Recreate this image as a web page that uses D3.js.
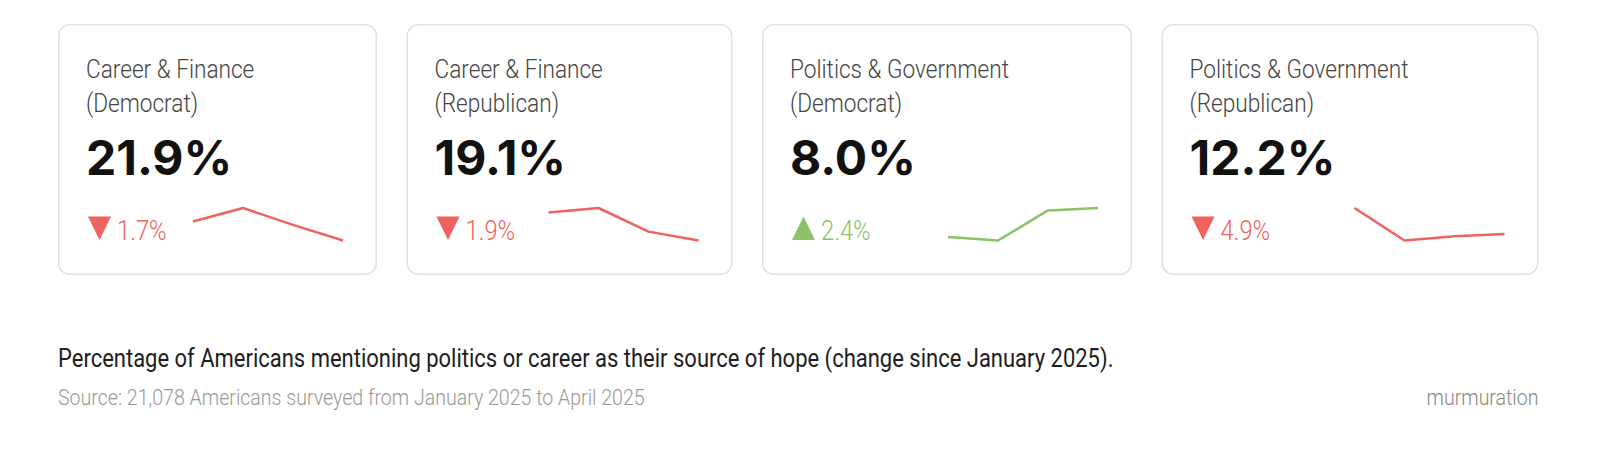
<!DOCTYPE html>
<html>
<head>
<meta charset="utf-8">
<script src="https://cdnjs.cloudflare.com/ajax/libs/d3/7.8.5/d3.min.js"></script>
<style>
  html, body { margin: 0; padding: 0; background: #fff; }
  svg { display: block; }
</style>
</head>
<body>
<svg id="chart"></svg>
<script>
// ---- data ----
const categories = ["Career & Finance", "Career & Finance", "Politics & Government", "Politics & Government"];
const parties = ["(Democrat)", "(Republican)", "(Democrat)", "(Republican)"];
const currentValues = [21.9, 19.1, 8.0, 12.2];
const changes = [-1.7, -1.9, 2.4, -4.9];
const months = ["Jan 2025", "Feb 2025", "Mar 2025", "Apr 2025"];
const trendSeries = [
    [23.6, 24.8, 23.3, 21.9],
    [21.0, 21.3, 19.7, 19.1],
    [5.6, 5.3, 7.8, 8.0],
    [17.1, 11.0, 11.8, 12.2]
];
const caption = "Percentage of Americans mentioning politics or career as their source of hope (change since January 2025).";
const sourceNote = "Source: 21,078 Americans surveyed from January 2025 to April 2025";
const brand = "murmuration";

// ---- layout ----
const W = 1600, H = 454;
const cardWidths = [319, 326, 370, 377];
const cardGap = 29.5;
const cardLeft = 58, cardTop = 24, cardHeight = 251;
const pad = 29;
const sparkWidth = 150, sparkRight = 34;

const RED = "#f0625f";
const GREEN = "#8cc268";
const narrow = "Roboto, 'DejaVu Sans', sans-serif";

const svg = d3.select("#chart").attr("width", W).attr("height", H);

// no condensed face is installed, so squeeze Roboto horizontally
function narrowText(sel, x, y, size, squeeze, weight) {
    return sel.append("text")
        .attr("transform", `translate(${x},${y}) scale(${squeeze},1)`)
        .attr("font-family", narrow)
        .attr("font-weight", weight || 300)
        .attr("font-size", size);
}

let xPos = cardLeft;
const cards = categories.map((c, i) => {
    const card = { i, x: xPos, w: cardWidths[i] };
    xPos += cardWidths[i] + cardGap;
    return card;
});
const rightEdge = xPos - cardGap;

const g = svg.selectAll("g.card")
    .data(cards)
    .join("g")
    .attr("class", "card")
    .attr("transform", d => `translate(${d.x},${cardTop})`);

g.append("rect")
    .attr("x", 0.75).attr("y", 0.75)
    .attr("width", d => d.w - 1.5)
    .attr("height", cardHeight - 1.5)
    .attr("rx", 11)
    .attr("fill", "#fff")
    .attr("stroke", "#e2e2e2")
    .attr("stroke-width", 1.5);

g.each(function (d) {
    const card = d3.select(this);
    const i = d.i;
    const col = changes[i] < 0 ? RED : GREEN;

    // title on two lines
    narrowText(card, pad - 1, 53.5, 26, 0.87).attr("fill", "#454545").text(categories[i]);
    narrowText(card, pad - 1, 87.5, 26, 0.87).attr("fill", "#454545").text(parties[i]);

    // big value
    card.append("text")
        .attr("x", pad - 1).attr("y", 150.5)
        .attr("font-family", "Inter, 'DejaVu Sans', sans-serif")
        .attr("font-weight", 700)
        .attr("font-size", 48)
        .attr("fill", "#111")
        .text(currentValues[i].toFixed(1) + "%");

    // delta triangle + text
    const x0 = pad + 1, x1 = pad + 24, top = 192.5, bot = 216;
    card.append("path")
        .attr("d", changes[i] < 0
            ? `M${x0},${top}L${x1},${top}L${(x0 + x1) / 2},${bot}Z`
            : `M${x0},${bot}L${x1},${bot}L${(x0 + x1) / 2},${top}Z`)
        .attr("fill", col);

    narrowText(card, pad + 30, 216, 28, 0.85).attr("fill", col)
        .text(Math.abs(changes[i]).toFixed(1) + "%");

    // sparkline
    const series = trendSeries[i];
    const x = d3.scalePoint()
        .domain(months)
        .range([d.w - sparkRight - sparkWidth, d.w - sparkRight]);
    const y = d3.scaleLinear()
        .domain(d3.extent(series))
        .range([216.5, 184]);
    const line = d3.line()
        .x((v, k) => x(months[k]))
        .y(v => y(v));
    card.append("path")
        .datum(series)
        .attr("d", line)
        .attr("fill", "none")
        .attr("stroke", col)
        .attr("stroke-width", 2.5)
        .attr("stroke-linejoin", "round");
});

// footer
narrowText(svg, cardLeft, 366.5, 25, 0.88, 400).attr("fill", "#1e1e1e").text(caption);
narrowText(svg, cardLeft, 404.5, 22.5, 0.87).attr("fill", "#999").text(sourceNote);
narrowText(svg, rightEdge, 404.5, 22.5, 0.87).attr("text-anchor", "end").attr("fill", "#888").text(brand);
</script>
</body>
</html>
